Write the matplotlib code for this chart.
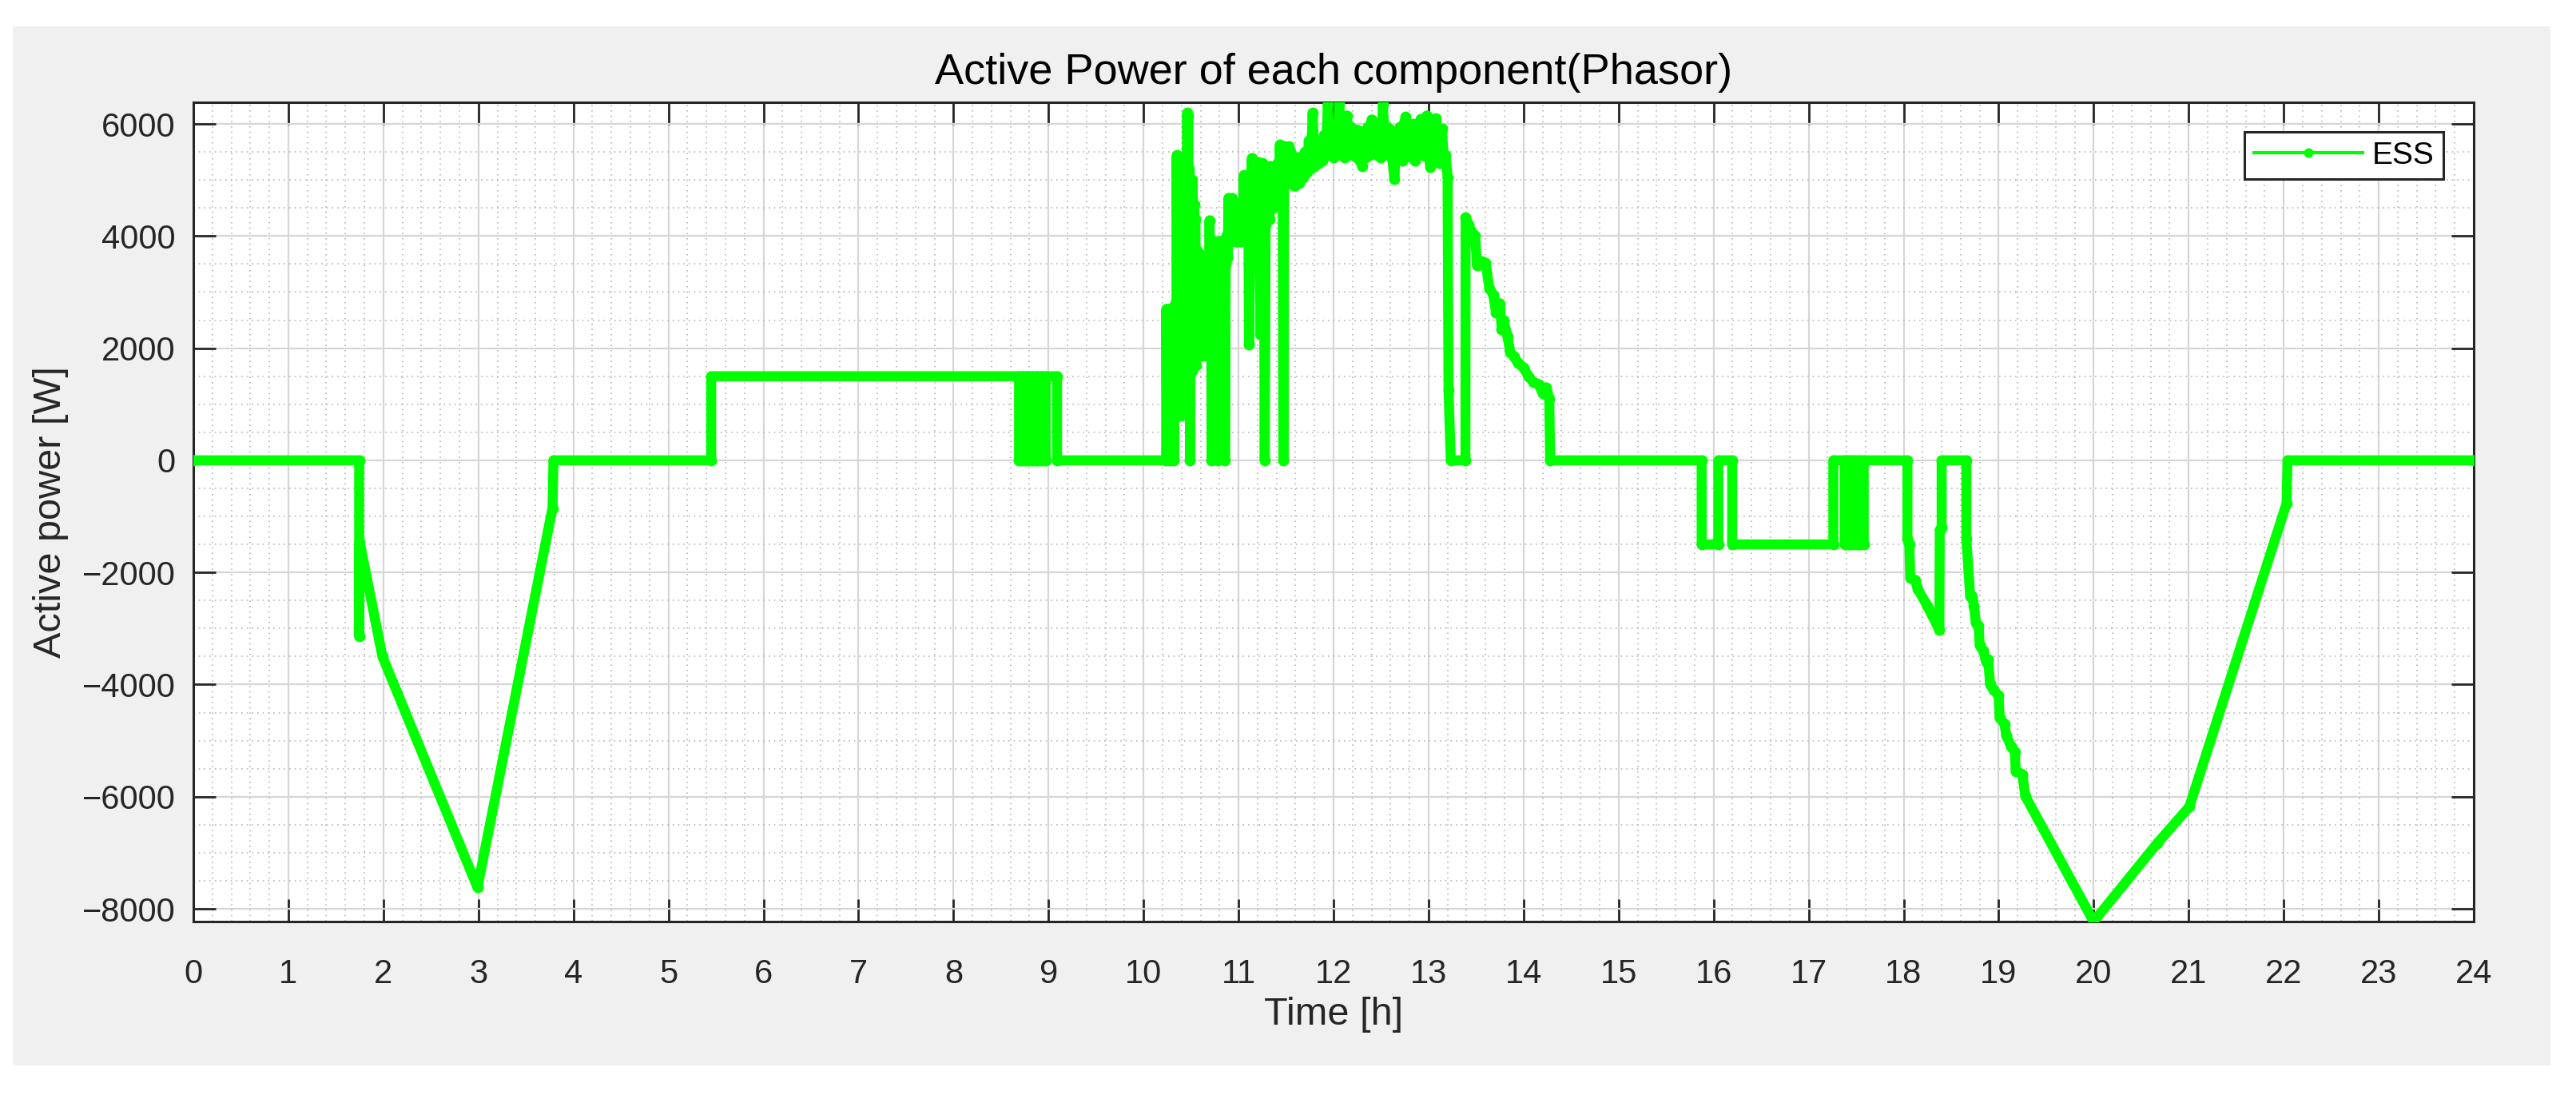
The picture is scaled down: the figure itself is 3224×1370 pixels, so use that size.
import matplotlib
matplotlib.use("Agg")
import matplotlib.pyplot as plt
from matplotlib.patches import Rectangle
from matplotlib.lines import Line2D
from matplotlib.ticker import MultipleLocator
import numpy as np

plt.rcParams['font.family'] = ['Liberation Sans', 'DejaVu Sans']

# ---------------- data ----------------
# night / morning discharge and idle
t_morning = [0.0, 1.745, 1.745, 1.750, 1.990, 2.990, 3.780, 3.790, 5.450, 5.450,
             8.690, 8.690, 8.720, 8.720, 8.740, 8.740, 8.770, 8.770, 8.790, 8.790,
             8.820, 8.820, 8.840, 8.840, 8.870, 8.870, 8.890, 8.890, 8.920, 8.920,
             8.940, 8.940, 8.970, 8.970, 9.090, 9.090, 10.238]
p_morning = [0, 0, -3140, -1450, -3500, -7620, -850, 0, 0, 1500,
             1500, 0, 0, 1500, 1500, 0, 0, 1500, 1500, 0,
             0, 1500, 1500, 0, 0, 1500, 1500, 0, 0, 1500,
             1500, 0, 0, 1500, 1500, 0, 0]

# start of PV charging: fast toggling
t_pv_start = [10.240, 10.245, 10.250, 10.255, 10.260, 10.265, 10.270, 10.275, 10.280, 10.285,
              10.290, 10.295, 10.300, 10.305, 10.310, 10.315, 10.320, 10.325, 10.330, 10.335]
p_pv_start = [2700, 600, 2650, 1200, 2700, 300, 2500, 1800, 0, 2700,
              900, 2600, 1500, 2720, 400, 2650, 0, 2700, 1100, 2800]

t_pv_spikes = [10.345, 10.350, 10.355, 10.360, 10.365, 10.370, 10.375, 10.380, 10.385, 10.390,
               10.395, 10.400, 10.405, 10.410, 10.415, 10.420, 10.425, 10.430, 10.435, 10.440,
               10.445, 10.450, 10.455, 10.460, 10.465, 10.470, 10.475, 10.480, 10.485, 10.490,
               10.495, 10.500, 10.505, 10.510, 10.515, 10.520, 10.525, 10.530, 10.535, 10.540,
               10.545, 10.550, 10.555]
p_pv_spikes = [1200, 5440, 2000, 5300, 900, 4800, 2600, 5400, 1500, 4200,
               800, 3900, 1800, 4500, 2500, 3600, 1200, 4600, 2200, 3800,
               1000, 4200, 2600, 6196, 3000, 6150, 1500, 5200, 3500, 0,
               4200, 2000, 4800, 1600, 5000, 2800, 4400, 1900, 4565, 2400,
               4300, 1700, 3760]

t_pv_mid = [10.565, 10.575, 10.585, 10.595, 10.605, 10.615, 10.625, 10.635, 10.645, 10.655,
            10.665, 10.675, 10.685, 10.695, 10.705, 10.713, 10.716, 10.725, 10.735, 10.745,
            10.755, 10.765, 10.775, 10.779, 10.782, 10.790, 10.800, 10.810, 10.820, 10.830,
            10.840, 10.850, 10.854, 10.857, 10.865, 10.875, 10.885, 10.895, 10.905, 10.915,
            10.925, 10.935, 10.945, 10.955, 10.965, 10.975, 10.985, 10.995]
p_pv_mid = [2200, 3700, 2600, 3620, 2100, 3500, 1870, 3300, 2000, 3000,
            1870, 3600, 2500, 4280, 3000, 2600, 0, 3500, 2400, 3900,
            2600, 3800, 2500, 2200, 0, 3900, 2700, 3900, 3000, 3850,
            2580, 3400, 2400, 0, 3500, 4000, 3600, 4680, 4100, 4600,
            4200, 4680, 4040, 4400, 3900, 4300, 3900, 4100]

t_pv_rise = [11.005, 11.015, 11.025, 11.035, 11.045, 11.055, 11.065, 11.075, 11.085, 11.095,
             11.105, 11.110, 11.120, 11.130, 11.140, 11.150, 11.160, 11.170, 11.180, 11.190,
             11.200, 11.210, 11.220, 11.230, 11.240, 11.250, 11.260, 11.270, 11.276, 11.285,
             11.295, 11.305, 11.315, 11.325, 11.335, 11.345, 11.355, 11.365, 11.375, 11.385,
             11.395, 11.405, 11.415, 11.425, 11.435, 11.445, 11.455, 11.465, 11.472, 11.480,
             11.490, 11.500, 11.510, 11.520, 11.530, 11.540, 11.550, 11.560, 11.570, 11.580, 11.590]
p_pv_rise = [4040, 4500, 3900, 4600, 4200, 5085, 4400, 4900, 4300, 5085,
             3900, 2060, 3500, 4800, 5390, 4200, 3475, 4900, 5200, 4500,
             5000, 5320, 4300, 2250, 4600, 5300, 4200, 3000, 0, 4200,
             5250, 4600, 5000, 4300, 5250, 4700, 5100, 4500, 4950, 4700,
             5000, 4600, 5300, 4900, 5630, 5100, 5400, 4940, 0, 4900,
             5600, 5200, 5500, 5000, 5600, 5200, 5500, 5100, 5400, 4900, 5300]

t_pv_peak = [11.60, 11.62, 11.64, 11.66, 11.68, 11.70, 11.72, 11.74, 11.76, 11.78,
             11.80, 11.82, 11.84, 11.86, 11.88, 11.90, 11.92, 11.94, 11.96, 11.98,
             12.00, 12.02, 12.04, 12.06, 12.08, 12.10, 12.12, 12.14, 12.16, 12.18,
             12.20, 12.22, 12.24, 12.26, 12.28, 12.30, 12.32, 12.34, 12.36, 12.38,
             12.40, 12.42, 12.44, 12.46, 12.48, 12.50, 12.52, 12.54, 12.56, 12.58,
             12.60, 12.62, 12.64, 12.66, 12.68, 12.70, 12.72, 12.74, 12.76, 12.78,
             12.80, 12.82, 12.84, 12.86, 12.88, 12.90, 12.92, 12.94, 12.96, 12.98,
             13.00, 13.02, 13.04, 13.06, 13.08, 13.10, 13.12, 13.14, 13.16, 13.18,
             13.20, 13.21, 13.234, 13.388]
p_pv_peak = [4900, 5400, 4950, 5416, 5050, 5500, 5150, 5700, 5200, 6196,
             5250, 5650, 5300, 5700, 5350, 5800, 5450, 6362, 5450, 5983,
             5400, 5900, 5500, 6386, 5450, 6000, 5400, 6149, 5500, 5950,
             5450, 5900, 5400, 5889, 5350, 5250, 5800, 5400, 5950, 5450,
             6078, 5500, 5900, 5450, 6000, 5400, 6362, 5550, 5950, 5450,
             5900, 5350, 5014, 5800, 5400, 5950, 5350, 6000, 6125, 5450,
             5950, 5400, 6000, 5350, 5900, 5500, 6080, 5450, 5950, 6149,
             5450, 5227, 6000, 5450, 6100, 5400, 5300, 5913, 5400, 5450,
             5050, 1253, 0, 0]

t_pv_decay = [13.390, 13.420, 13.450, 13.490, 13.510, 13.560, 13.600, 13.640, 13.680, 13.710,
              13.750, 13.770, 13.790, 13.830, 13.860, 13.900, 13.940, 14.000, 14.050, 14.100,
              14.160, 14.200, 14.240, 14.270, 14.280]
p_pv_decay = [4328, 4200, 4091, 4000, 3477, 3546, 3524, 3070, 2956, 2640,
              2800, 2341, 2500, 2213, 1928, 1850, 1737, 1650, 1500, 1400,
              1350, 1200, 1300, 1100, 0]

# evening / night discharge
t_evening = [15.874, 15.874, 16.050, 16.050, 16.195, 16.195, 17.260, 17.260, 17.380, 17.380,
             17.400, 17.400, 17.430, 17.430, 17.460, 17.460, 17.490, 17.490, 17.520, 17.520,
             17.550, 17.550, 17.580, 17.580, 18.040, 18.040, 18.060, 18.070, 18.120, 18.150,
             18.250, 18.376, 18.380, 18.400, 18.400, 18.660, 18.660, 18.700, 18.720, 18.740,
             18.760, 18.790, 18.800, 18.840, 18.870, 18.890, 18.910, 18.950, 19.000, 19.010,
             19.060, 19.080, 19.130, 19.170, 19.180, 19.250, 19.280, 20.000, 20.670, 21.007,
             22.030, 22.040, 24.000]
p_evening = [0, -1500, -1500, 0, 0, -1500, -1500, 0, 0, -1500,
             -1500, 0, 0, -1500, -1500, 0, 0, -1500, -1500, 0,
             0, -1500, -1500, 0, 0, -1400, -1500, -2100, -2134, -2300,
             -2600, -3025, -1242, -1200, 0, 0, -1400, -2420, -2420, -2600,
             -2900, -2950, -3300, -3400, -3600, -3550, -4000, -4100, -4200, -4590,
             -4700, -4905, -5100, -5200, -5542, -5600, -5988, -8228, -6830, -6180,
             -770, 0, 0]

series_label = "ESS"
x_ticks = list(range(0, 25))
y_ticks = [-8000, -6000, -4000, -2000, 0, 2000, 4000, 6000]

time_h = np.array(t_morning + t_pv_start + t_pv_spikes + t_pv_mid + t_pv_rise
                  + t_pv_peak + t_pv_decay + t_evening)
power_w = np.array(p_morning + p_pv_start + p_pv_spikes + p_pv_mid + p_pv_rise
                   + p_pv_peak + p_pv_decay + p_evening)

# ---------------- figure ----------------
W, H = 3224, 1370
fig = plt.figure(figsize=(W / 100, H / 100), dpi=100, facecolor='white')

# MATLAB figure grey panel
fig.patches.append(Rectangle((16 / W, 1 - 1333 / H), (3192 - 16) / W, (1333 - 33) / H,
                             transform=fig.transFigure, facecolor='#f0f0f0',
                             edgecolor='none', zorder=-10))

ax_l, ax_r, ax_t, ax_b = 242, 3096, 128, 1153
ax = fig.add_axes([ax_l / W, 1 - ax_b / H, (ax_r - ax_l) / W, (ax_b - ax_t) / H])
ax.set_facecolor('white')

green = '#00ff00'
ax.plot(time_h, power_w, color=green, lw=9.0, marker='o', ms=10, mew=0,
        solid_joinstyle='round', solid_capstyle='round', zorder=3)

ax.set_xlim(0, 24)
ax.set_ylim(power_w.min(), power_w.max())
ax.set_xticks(x_ticks)
ax.set_yticks(y_ticks)
ax.xaxis.set_minor_locator(MultipleLocator(0.2))
ax.yaxis.set_minor_locator(MultipleLocator(500))

dark = '#262626'
ax.grid(True, which='major', color='#d6d6d6', lw=1.6, zorder=0)
ax.grid(True, which='minor', color='#b8b8b8', lw=1.2, ls=(0, (1, 3)), zorder=0)
ax.set_axisbelow(True)

ax.tick_params(which='major', direction='in', length=20, width=2.0, color=dark,
               top=True, right=True, labelsize=30, labelcolor=dark)
ax.tick_params(axis='x', which='major', pad=33)
ax.tick_params(axis='y', which='major', pad=16)
ax.tick_params(which='minor', length=0, top=True, right=True)
for s in ax.spines.values():
    s.set_color(dark)
    s.set_linewidth(2.2)

# title and axis labels
fig.text((ax_l + ax_r) / 2 / W, 1 - 105 / H, "Active Power of each component(Phasor)",
         ha='center', va='baseline', fontsize=39, color='black')
fig.text(64 / W, 1 - 641 / H, "Active power [W]", rotation=90, ha='center', va='center',
         fontsize=35, color=dark)
fig.text((ax_l + ax_r) / 2 / W, 1 - 1270 / H, "Time [h]", ha='center', va='center',
         fontsize=35, color=dark)

handle = Line2D([], [], color=green, lw=3.0, marker='o', ms=8.6, mew=0)
leg = ax.legend([handle], [series_label], loc='upper right',
                bbox_to_anchor=((3058 - ax_l) / (ax_r - ax_l), (ax_b - 165) / (ax_b - ax_t)),
                borderaxespad=0, fontsize=28, handlelength=3.5, handletextpad=0.3,
                borderpad=0.3, fancybox=False, framealpha=1, edgecolor=dark)
leg.get_frame().set_linewidth(2.2)
for t in leg.get_texts():
    t.set_color('black')

fig.savefig("out.png", dpi=100, facecolor='white')
